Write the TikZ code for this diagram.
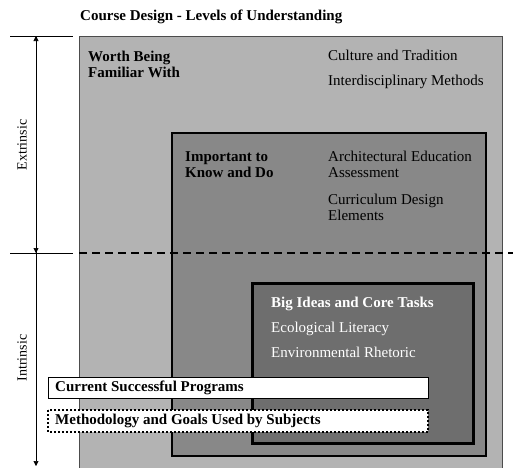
\documentclass[tikz,border=0pt]{standalone}
\usepackage{fontspec}
\setmainfont{Liberation Serif}
\usetikzlibrary{arrows.meta}

\definecolor{outergray}{HTML}{B3B3B3}
\definecolor{midgray}{HTML}{888888}
\definecolor{innergray}{HTML}{6E6E6E}

\tikzset{
  txt/.style={anchor=base west,inner sep=0pt,font=\fontsize{15}{16}\selectfont,align=left},
  bold/.style={txt,font=\fontsize{15}{16}\selectfont\bfseries},
  span/.style={semithick,-{Triangle[length=5pt,width=5pt]}}
}

\begin{document}
\begin{tikzpicture}[x=1pt,y=-1pt]
    \useasboundingbox (0,0) rectangle (513,467);
    \node[bold](title) at (80,20) {Course Design - Levels of Understanding};

    % the three nested levels
    \fill[outergray] (79,36) rectangle (502,470);
    \draw[black!70] (79,470) -- (79,36) -- (502,36) -- (502,470);
    \draw[line width=1.5pt,fill=midgray] (172,133) rectangle (486,456);
    \draw[line width=3pt,fill=innergray] (252,283) rectangle (473,443);

    % multi-line labels sit on their last line
    \node[bold](worth) at (88,77) {Worth Being\\Familiar With};
    \node[txt](culture) at (328,60) {Culture and Tradition};
    \node[txt](inter) at (328,85) {Interdisciplinary Methods};

    \node[bold](important) at (185,177) {Important to\\Know and Do};
    \node[txt](arch) at (328,177) {Architectural Education\\Assessment};
    \node[txt](curr) at (328,220) {Curriculum Design\\Elements};

    \node[bold,text=white](big) at (271,307) {Big Ideas and Core Tasks};
    \node[txt,text=white](eco) at (271,332) {Ecological Literacy};
    \node[txt,text=white](env) at (271,357) {Environmental Rhetoric};

    % extrinsic / intrinsic split
    \draw[line width=1.5pt,dash pattern=on 8pt off 5pt] (79,253) -- (513,253);
    \coordinate(top) at (36,36);
    \coordinate(mid) at (36,253);
    \coordinate(bot) at (36,466);
    \draw (10,36) -- (73,36);
    \draw (10,253) -- (73,253);
    \draw[span] (mid) -- (top);
    \draw[span] (top) -- (mid);
    \draw[span] (mid) -- (bot);
    \node[rotate=90,font=\fontsize{14}{14}\selectfont](ext) at (22,145) {Extrinsic};
    \node[rotate=90,font=\fontsize{14}{14}\selectfont](intr) at (22,358) {Intrinsic};

    % overlays
    \draw[fill=white] (48,377) rectangle (428,398);
    \node[bold](current) at (55,391) {Current Successful Programs};
    \draw[fill=white,line width=2pt,dash pattern=on 2pt off 2pt] (48,410) rectangle (428,432);
    \node[bold](method) at (55,424) {Methodology and Goals Used by Subjects};
\end{tikzpicture}
\end{document}
